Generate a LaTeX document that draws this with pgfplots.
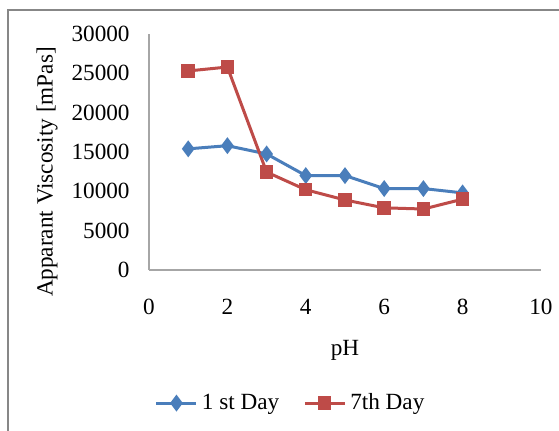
\documentclass[border=0pt]{standalone}
\usepackage{fontspec}
\setmainfont{Liberation Serif}
\usepackage{pgfplots}
\pgfplotsset{compat=1.18}
\definecolor{sblue}{HTML}{4A7EBB}
\definecolor{sred}{HTML}{BE4B48}
\definecolor{frame}{HTML}{878787}
\definecolor{axgray}{HTML}{A6A6A6}
\begin{document}
\begin{tikzpicture}
\path[use as bounding box] (0,0) rectangle (279.5pt,215.5pt);
\draw[frame, line width=1pt] (4pt,0pt) -- (4pt,210.5pt) -- (279.5pt,210.5pt);
\begin{axis}[
  at={(74.5pt,80.5pt)}, anchor=south west,
  scale only axis, width=196pt, height=118pt,
  xmin=0, xmax=10, ymin=0, ymax=30000,
  xtick={0,2,...,10}, ytick={0,5000,...,30000},
  axis x line*=bottom, axis y line*=left,
  axis line style={axgray, line width=0.6pt, -},
  major tick length=0pt,
  font=\fontsize{11.6}{13.5}\selectfont,
  /pgf/number format/assume math mode=true,
  /pgf/number format/set thousands separator={},
  scaled y ticks=false,
  every tick label/.append style={inner sep=0pt, font=\fontsize{11.6}{13.5}\selectfont},
  yticklabel style={anchor=east, xshift=-9.5pt},
  xticklabel style={anchor=north, yshift=-14.5pt},
  xlabel={pH},
  xlabel style={at={(axis description cs:0.5,-0.339)}, anchor=center},
  ylabel={Apparant Viscosity [mPas]},
  ylabel style={at={(axis description cs:-0.26,0.415)}, anchor=center, rotate=0},
  legend style={at={(axis description cs:0.364,-0.564)}, anchor=center, draw=none,
    legend columns=2, font=\fontsize{11.6}{13.5}\selectfont,
    /tikz/every even column/.append style={column sep=10pt}},
  legend image code/.code={\draw[mark repeat=2, mark phase=2] plot coordinates {(0pt,0pt) (10pt,0pt) (20pt,0pt)};},
  clip=false,
]
\addplot[sblue, line width=1.5pt, mark=diamond*, mark size=3pt, mark options={solid}]
  coordinates {(1,15400) (2,15800) (3,14750) (4,12000) (5,12000) (6,10350) (7,10350) (8,9800)};
\addlegendentry{1 st Day}
\addplot[sred, line width=1.5pt, mark=square*, mark size=2.6pt, mark options={solid}]
  coordinates {(1,25300) (2,25800) (3,12450) (4,10200) (5,8900) (6,7900) (7,7750) (8,9000)};
\addlegendentry{7th Day}
\end{axis}
\end{tikzpicture}
\end{document}
